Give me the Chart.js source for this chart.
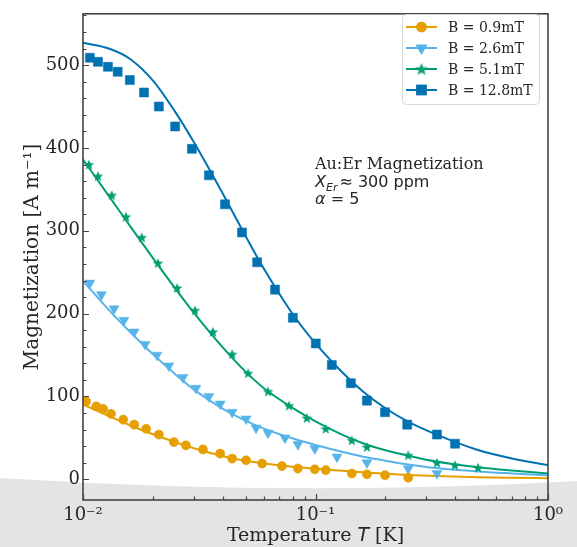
<!DOCTYPE html>
<html>
<head>
<meta charset="utf-8">
<script src="https://cdn.jsdelivr.net/npm/chart.js@4.4.1/dist/chart.umd.min.js"></script>
<style>
  html, body { margin: 0; padding: 0; background: #fff; }
  canvas { display: block; }
</style>
</head>
<body>
<canvas id="mag-chart" width="577" height="547"></canvas>
<script>
// Au:Er magnetization vs temperature, four applied fields
const fieldLabels = ['B = 0.9mT', 'B = 2.6mT', 'B = 5.1mT', 'B = 12.8mT'];
const fieldColors = ['#E69F00', '#56B4E9', '#009E73', '#0072B2'];

// measured points: T [K], M [A/m]
const t09 = [0.0103, 0.0114, 0.0122, 0.0132, 0.0149, 0.0166, 0.0187, 0.0212, 0.0246, 0.0277, 0.0328, 0.0389, 0.0438, 0.0503, 0.0589, 0.0717, 0.0840, 0.0993, 0.1107, 0.1433, 0.1664, 0.1991, 0.2505];
const m09 = [94, 88, 85, 79, 72, 66, 61, 54, 45, 41, 36, 31, 25, 23, 19, 16, 13, 12, 11, 7, 6, 5, 2];

const t26 = [0.0107, 0.0120, 0.0136, 0.0150, 0.0166, 0.0185, 0.0208, 0.0234, 0.0269, 0.0306, 0.0348, 0.0389, 0.0438, 0.0503, 0.0555, 0.0625, 0.0739, 0.0840, 0.0993, 0.1237, 0.1664, 0.2505, 0.3329];
const m26 = [237, 223, 206, 192, 178, 163, 150, 137, 123, 110, 100, 91, 81, 73, 62, 56, 50, 42, 37, 27, 20, 13, 7];

const t51 = [0.0106, 0.0116, 0.0133, 0.0153, 0.0179, 0.0210, 0.0254, 0.0303, 0.0362, 0.0438, 0.0513, 0.0625, 0.0769, 0.0918, 0.1107, 0.1433, 0.1664, 0.2505, 0.3329, 0.398, 0.4997];
const m51 = [380, 366, 343, 317, 292, 261, 231, 204, 178, 151, 128, 106, 89, 74, 61, 47, 39, 29, 20, 17, 14];

const t128 = [0.0107, 0.0116, 0.0128, 0.0141, 0.0159, 0.0183, 0.0212, 0.0249, 0.0294, 0.0348, 0.0408, 0.0483, 0.0561, 0.0670, 0.0799, 0.1003, 0.1175, 0.1419, 0.1664, 0.1991, 0.2480, 0.3329, 0.398];
const m128 = [509, 504, 498, 492, 482, 467, 450, 426, 399, 367, 332, 298, 262, 229, 195, 164, 138, 116, 95, 81, 66, 54, 43];

// model curves (alpha = 5), sampled on a common T grid
const fitT = [0.01, 0.013, 0.016, 0.02, 0.025, 0.03, 0.04, 0.05, 0.06, 0.08, 0.1, 0.13, 0.16, 0.2, 0.25, 0.33, 0.5, 0.7, 1.0];
const fit09 = [90.5, 75.9, 65, 54.4, 44.7, 37.5, 27.9, 22.3, 19, 15.2, 12.7, 10.2, 8.4, 6.7, 5.2, 3.9, 2.6, 1.9, 1.3];
const fit26 = [239.5, 203.7, 177.5, 150.9, 126.6, 108.3, 85.1, 70.9, 61.2, 49.2, 41.5, 33.2, 27.3, 22.5, 17.9, 13.5, 9.5, 7.1, 4.8];
const fit51 = [386, 341, 305, 267, 230, 201, 159, 130, 110, 86, 70, 54, 43.5, 35, 28.5, 21.5, 14.5, 10.5, 7];
const fit128 = [527, 519.8, 507.2, 481.3, 443, 406.9, 344.5, 293.9, 254.1, 199, 164.1, 129.6, 106.1, 85.8, 69.6, 54.2, 35.3, 25.1, 17.2];

// axis ticks
const xMajorTicks = [0.01, 0.1, 1];
const xMajorLabels = ['10\u207B\u00B2', '10\u207B\u00B9', '10\u2070'];
const yMajorTicks = [0, 100, 200, 300, 400, 500];
const yMinorStep = 20;

const xTickValues = [];
for (let d = 0; d < xMajorTicks.length - 1; d++) {
  for (let k = 1; k < 10; k++) xTickValues.push(xMajorTicks[d] * k);
}
xTickValues.push(xMajorTicks[xMajorTicks.length - 1]);
const yTickValues = [];
for (let v = 0; v <= 560; v += yMinorStep) yTickValues.push(v);

const TEXT = '#262626';
const SERIF = "'DejaVu Serif', serif";
const SANS = "'DejaVu Sans', sans-serif";

// filled five-point star, used as a point style
function starImage(color, r) {
  const c = document.createElement('canvas');
  const s = Math.ceil(r * 2 + 2);
  c.width = s; c.height = s;
  const g = c.getContext('2d');
  g.fillStyle = color;
  g.beginPath();
  for (let i = 0; i < 10; i++) {
    const rr = i % 2 ? r * 0.42 : r;
    const a = -Math.PI / 2 + i * Math.PI / 5;
    g.lineTo(s / 2 + rr * Math.cos(a), s / 2 + 0.5 + rr * Math.sin(a));
  }
  g.closePath();
  g.fill();
  return c;
}

const markers = [
  { pointStyle: 'circle', radius: 4.6, rotation: 0 },
  { pointStyle: 'triangle', radius: 5.8, rotation: 180 },
  { pointStyle: starImage(fieldColors[2], 5.6), radius: 5, rotation: 0 },
  { pointStyle: 'rect', radius: 6.4, rotation: 0 },
];

const measured = [[t09, m09], [t26, m26], [t51, m51], [t128, m128]];
const fits = [fit09, fit26, fit51, fit128];

const datasets = [];
measured.forEach(([ts, ms], i) => {
  datasets.push({
    label: fieldLabels[i],
    data: ts.map((t, j) => ({ x: t, y: ms[j] })),
    showLine: false,
    order: 0,
    pointStyle: markers[i].pointStyle,
    pointRadius: markers[i].radius,
    pointRotation: markers[i].rotation,
    pointBackgroundColor: fieldColors[i],
    pointBorderColor: fieldColors[i],
    pointBorderWidth: 0.5,
  });
});
fits.forEach((ms, i) => {
  datasets.push({
    label: fieldLabels[i] + ' fit',
    data: fitT.map((t, j) => ({ x: t, y: ms[j] })),
    showLine: true,
    order: 1,
    pointRadius: 0,
    borderColor: fieldColors[i],
    borderWidth: 2,
    cubicInterpolationMode: 'monotone',
  });
});

// light page shadow along the bottom of the figure
const pageShade = {
  id: 'pageShade',
  beforeDraw(chart) {
    const { ctx, width, height } = chart;
    ctx.save();
    ctx.fillStyle = '#fff';
    ctx.fillRect(0, 0, width, height);
    ctx.fillStyle = '#e4e4e4';
    ctx.beginPath();
    ctx.moveTo(0, 478);
    ctx.quadraticCurveTo(300, 497, width, 481);
    ctx.lineTo(width, height);
    ctx.lineTo(0, height);
    ctx.closePath();
    ctx.fill();
    ctx.restore();
  },
};

// box frame, inward ticks, legend and annotation
const decorations = {
  id: 'decorations',
  afterDatasetsDraw(chart) {
    const { ctx, chartArea: a, scales: { x, y } } = chart;
    ctx.save();
    ctx.strokeStyle = '#444';
    ctx.lineWidth = 1.2;
    ctx.beginPath();
    x.ticks.forEach((t) => {
      const px = Math.round(x.getPixelForValue(t.value)) + 0.5;
      const len = xMajorTicks.some((m) => Math.abs(m - t.value) < 1e-9) ? 6 : 3.5;
      ctx.moveTo(px, a.bottom);
      ctx.lineTo(px, a.bottom - len);
    });
    y.ticks.forEach((t) => {
      const py = Math.round(y.getPixelForValue(t.value)) + 0.5;
      const len = yMajorTicks.includes(t.value) ? 6 : 3.5;
      ctx.moveTo(a.left, py);
      ctx.lineTo(a.left + len, py);
    });
    ctx.stroke();
    ctx.lineWidth = 1.6;
    ctx.strokeRect(a.left, a.top, a.right - a.left, a.bottom - a.top);

    // legend
    const lx = 402, ly = 14, lw = 137, lh = 90;
    ctx.fillStyle = 'rgba(255,255,255,0.9)';
    ctx.strokeStyle = '#d8d8d8';
    ctx.lineWidth = 1;
    ctx.beginPath();
    ctx.roundRect(lx + 0.5, ly + 0.5, lw, lh, 4);
    ctx.fill();
    ctx.stroke();
    fieldLabels.forEach((lab, i) => {
      const ry = ly + 13 + i * 21;
      ctx.strokeStyle = fieldColors[i];
      ctx.lineWidth = 2;
      ctx.beginPath();
      ctx.moveTo(406, ry);
      ctx.lineTo(437, ry);
      ctx.stroke();
      const m = markers[i];
      ctx.fillStyle = fieldColors[i];
      if (typeof m.pointStyle === 'string') {
        Chart.helpers.drawPoint(ctx, { pointStyle: m.pointStyle, radius: m.radius * 1.15, rotation: m.rotation, borderWidth: 0 }, 421.5, ry);
        ctx.fill();
      } else {
        const img = m.pointStyle;
        ctx.drawImage(img, 421.5 - img.width * 0.6, ry - img.height * 0.6, img.width * 1.2, img.height * 1.2);
      }
      ctx.fillStyle = TEXT;
      ctx.font = '14px ' + SERIF;
      ctx.textBaseline = 'middle';
      ctx.textAlign = 'left';
      ctx.fillText(lab, 448, ry + 1);
    });

    // annotation
    ctx.fillStyle = TEXT;
    ctx.textBaseline = 'alphabetic';
    ctx.textAlign = 'left';
    ctx.font = '16px ' + SERIF;
    ctx.fillText('Au:Er Magnetization', 315, 169);
    let tx = 315;
    ctx.font = 'italic 16px ' + SANS;
    ctx.fillText('X', tx, 187);
    tx += ctx.measureText('X').width;
    ctx.font = 'italic 11px ' + SANS;
    ctx.fillText('Er', tx, 191);
    tx += ctx.measureText('Er').width + 2;
    ctx.font = '16px ' + SANS;
    ctx.fillText('\u2248 300 ppm', tx, 187);
    ctx.font = 'italic 16px ' + SANS;
    ctx.fillText('\u03B1', 315, 204);
    const aw = ctx.measureText('\u03B1').width;
    ctx.font = '16px ' + SANS;
    ctx.fillText(' = 5', 315 + aw, 204);

    // x axis title with italic T
    const parts = [['Temperature ', '19px ' + SERIF], ['T', 'italic 19px ' + SANS], [' [K]', '19px ' + SERIF]];
    let total = 0;
    parts.forEach(([s, f]) => { ctx.font = f; total += ctx.measureText(s).width; });
    let cx = (a.left + a.right) / 2 - total / 2;
    parts.forEach(([s, f]) => {
      ctx.font = f;
      ctx.fillText(s, cx, 541);
      cx += ctx.measureText(s).width;
    });
    ctx.restore();
  },
};

Chart.defaults.font.family = SERIF;
Chart.defaults.color = TEXT;

new Chart(document.getElementById('mag-chart'), {
  type: 'scatter',
  data: { datasets },
  plugins: [pageShade, decorations],
  options: {
    responsive: false,
    animation: false,
    events: [],
    layout: { padding: { left: 0, right: 29, top: 7, bottom: 0 } },
    plugins: { legend: { display: false }, tooltip: { enabled: false } },
    scales: {
      x: {
        type: 'logarithmic',
        min: 0.01,
        max: 1,
        border: { display: false },
        grid: { display: false, drawTicks: false },
        afterBuildTicks: (scale) => { scale.ticks = xTickValues.map((v) => ({ value: v })); },
        afterFit: (scale) => { scale.height = 47; },
        ticks: {
          autoSkip: false,
          maxRotation: 0,
          padding: 5,
          font: { size: 18 },
          callback: (v) => {
            const k = xMajorTicks.findIndex((m) => Math.abs(m - v) < 1e-9);
            return k >= 0 ? xMajorLabels[k] : '';
          },
        },
      },
      y: {
        min: -25,
        max: 562,
        border: { display: false },
        grid: { display: false, drawTicks: false },
        afterBuildTicks: (scale) => { scale.ticks = yTickValues.map((v) => ({ value: v })); },
        afterFit: (scale) => { scale.width = 83; },
        ticks: {
          autoSkip: false,
          padding: 3,
          font: { size: 18 },
          callback: (v) => (yMajorTicks.includes(v) ? String(v) : ''),
        },
        title: {
          display: true,
          text: 'Magnetization [A m\u207B\u00B9]',
          font: { size: 20 },
          padding: { top: 21, bottom: 0 },
        },
      },
    },
  },
});
</script>
</body>
</html>
